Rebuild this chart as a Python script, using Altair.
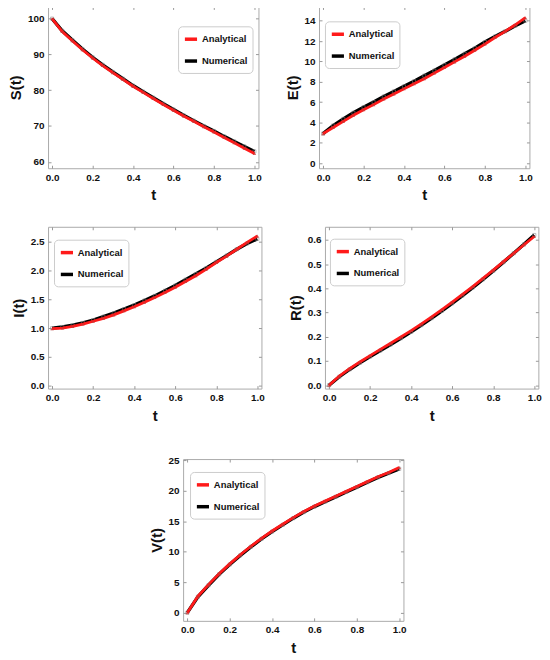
import altair as alt
import pandas as pd

t = [0.0, 0.05, 0.1, 0.15, 0.2, 0.25, 0.3, 0.35, 0.4, 0.45, 0.5,
     0.55, 0.6, 0.65, 0.7, 0.75, 0.8, 0.85, 0.9, 0.95, 1.0]

S_num = [100.0, 96.6, 94.0, 91.5, 89.2, 87.1, 85.1, 83.2, 81.3, 79.6, 77.9,
         76.2, 74.6, 73.0, 71.5, 70.0, 68.6, 67.1, 65.7, 64.3, 62.9]
S_ana = [100.0, 96.4, 93.8, 91.3, 89.0, 86.9, 84.9, 83.0, 81.1, 79.4, 77.7,
         76.0, 74.4, 72.8, 71.3, 69.8, 68.3, 66.8, 65.3, 63.8, 62.3]

E_num = [2.9, 3.7, 4.35, 4.95, 5.5, 6.0, 6.55, 7.05, 7.55, 8.05, 8.6,
         9.1, 9.65, 10.2, 10.75, 11.3, 11.9, 12.45, 12.95, 13.5, 14.0]
E_ana = [2.9, 3.5, 4.1, 4.7, 5.25, 5.75, 6.3, 6.8, 7.3, 7.8, 8.3,
         8.85, 9.4, 9.95, 10.5, 11.1, 11.7, 12.35, 12.95, 13.6, 14.3]

I_num = [1.0, 1.02, 1.05, 1.09, 1.14, 1.20, 1.26, 1.33, 1.40, 1.48, 1.56,
         1.65, 1.74, 1.84, 1.94, 2.04, 2.15, 2.26, 2.37, 2.47, 2.55]
I_ana = [0.99, 1.0, 1.03, 1.07, 1.12, 1.17, 1.23, 1.30, 1.37, 1.45, 1.53,
         1.62, 1.71, 1.81, 1.91, 2.02, 2.14, 2.25, 2.37, 2.49, 2.60]

R_num = [0.0, 0.035, 0.065, 0.092, 0.118, 0.143, 0.168, 0.194, 0.220, 0.248, 0.277,
         0.307, 0.338, 0.370, 0.403, 0.437, 0.472, 0.508, 0.545, 0.582, 0.620]
R_ana = [0.0, 0.038, 0.068, 0.096, 0.122, 0.148, 0.173, 0.199, 0.225, 0.253, 0.282,
         0.312, 0.343, 0.375, 0.407, 0.441, 0.475, 0.510, 0.545, 0.580, 0.614]

V_num = [0.0, 2.6, 4.5, 6.3, 7.9, 9.4, 10.8, 12.1, 13.3, 14.4, 15.5,
         16.5, 17.4, 18.2, 19.0, 19.8, 20.6, 21.4, 22.2, 22.9, 23.6]
V_ana = [0.0, 2.7, 4.6, 6.4, 8.0, 9.5, 10.9, 12.2, 13.4, 14.5, 15.6,
         16.6, 17.5, 18.3, 19.1, 19.9, 20.7, 21.5, 22.3, 23.0, 23.8]

series_names = ["Analytical", "Numerical"]
series_colors = ["#ff1a1a", "#000000"]

x_ticks = [0.0, 0.2, 0.4, 0.6, 0.8, 1.0]

FONT = "Liberation Sans"
H = 163


def panel(title, num, ana, ydom, yvals, yfmt, lx, ly, w=212):
    df = pd.DataFrame({
        "t": t * 2,
        "v": list(ana) + list(num),
        "series": ["Analytical"] * len(t) + ["Numerical"] * len(t),
    })
    xscale = alt.Scale(domain=[-0.02, 1.02], nice=False)
    yscale = alt.Scale(domain=ydom, nice=False, zero=False)
    xenc = alt.X("t:Q", title="t", scale=xscale,
                 axis=alt.Axis(values=x_ticks, format=".1f"))
    yenc = alt.Y("v:Q", title=title, scale=yscale,
                 axis=alt.Axis(values=yvals, format=yfmt))
    color = alt.Color("series:N",
                      scale=alt.Scale(domain=series_names, range=series_colors),
                      legend=alt.Legend(
                          title=None, orient="none", legendX=lx, legendY=ly,
                          fillColor="white", strokeColor="#cccccc",
                          cornerRadius=4, padding=5, rowPadding=7,
                          symbolType="stroke", symbolStrokeWidth=3.5,
                          symbolSize=150, labelOffset=3,
                          labelFont=FONT, labelFontSize=9.5,
                          labelFontWeight="bold", labelColor="#111"))
    base = alt.Chart(df)
    line_num = base.transform_filter(alt.datum.series == "Numerical").mark_line(
        strokeWidth=3.4, clip=True).encode(x=xenc, y=yenc, color=color)
    pts_num = base.transform_filter(alt.datum.series == "Numerical").mark_point(
        shape="square", size=10, filled=False, color="#888888", strokeWidth=0.8,
        clip=True).encode(x=xenc, y=yenc)
    line_ana = base.transform_filter(alt.datum.series == "Analytical").mark_line(
        strokeWidth=2.8, clip=True).encode(x=xenc, y=yenc, color=color)
    pts_ana = base.transform_filter(alt.datum.series == "Analytical").mark_point(
        shape="triangle-up", size=12, filled=True, color="#cc3333", opacity=0.8,
        clip=True).encode(x=xenc, y=yenc)
    main = alt.layer(line_num, pts_num, line_ana, pts_ana)
    frame_ticks = base.mark_line(opacity=0).encode(
        x=alt.X("t:Q", scale=xscale,
                axis=alt.Axis(orient="top", values=x_ticks, labels=False,
                              title=None, tickSize=3, offset=-3)),
        y=alt.Y("v:Q", scale=yscale,
                axis=alt.Axis(orient="right", values=yvals, labels=False,
                              title=None, tickSize=3, offset=-3)),
        detail="series:N")
    return alt.layer(main, frame_ticks).resolve_axis(
        x="independent", y="independent").properties(width=w, height=H)


p1 = panel("S(t)", S_num, S_ana, [58.2, 103.4], [60, 70, 80, 90, 100], "d", 131, 20)
p2 = panel("E(t)", E_num, E_ana, [-0.5, 15.4], [0, 2, 4, 6, 8, 10, 12, 14], "d", 6, 15)
p3 = panel("I(t)", I_num, I_ana, [-0.05, 2.76], [0, 0.5, 1.0, 1.5, 2.0, 2.5], ".1f", 6, 13, w=215)
p4 = panel("R(t)", R_num, R_ana, [-0.014, 0.654], [0, 0.1, 0.2, 0.3, 0.4, 0.5, 0.6], ".1f", 5, 12, w=215)
p5 = panel("V(t)", V_num, V_ana, [-1.34, 25.2], [0, 5, 10, 15, 20, 25], "d", 7, 13, w=222)

row1 = alt.hconcat(p1, p2, spacing=22).resolve_scale(color="independent").resolve_legend(color="independent")
row2 = alt.hconcat(p3, p4, spacing=22).resolve_scale(color="independent").resolve_legend(color="independent")
top = alt.vconcat(row1, row2, spacing=22).resolve_scale(color="independent").resolve_legend(color="independent")

chart = alt.vconcat(top, p5, spacing=30, center=True).resolve_scale(
    color="independent").resolve_legend(color="independent").configure_view(
    stroke="#aaaaaa", strokeWidth=1
).configure_axis(
    grid=False, domain=False, tickColor="#999999", tickSize=3, offset=-3,
    labelFont=FONT, labelFontSize=10, labelFontWeight="bold", labelColor="#111",
    titleFont=FONT, titleFontSize=15, titleFontWeight="bold", titleColor="#111",
    labelPadding=4, labelOverlap=False
).configure_axisY(titlePadding=4).configure_axisX(titlePadding=6).properties(
    padding={"left": 0, "top": -5, "right": 0, "bottom": 0},
    background="white")

chart.save("out.html", embed_options={"renderer": "svg", "actions": False})
